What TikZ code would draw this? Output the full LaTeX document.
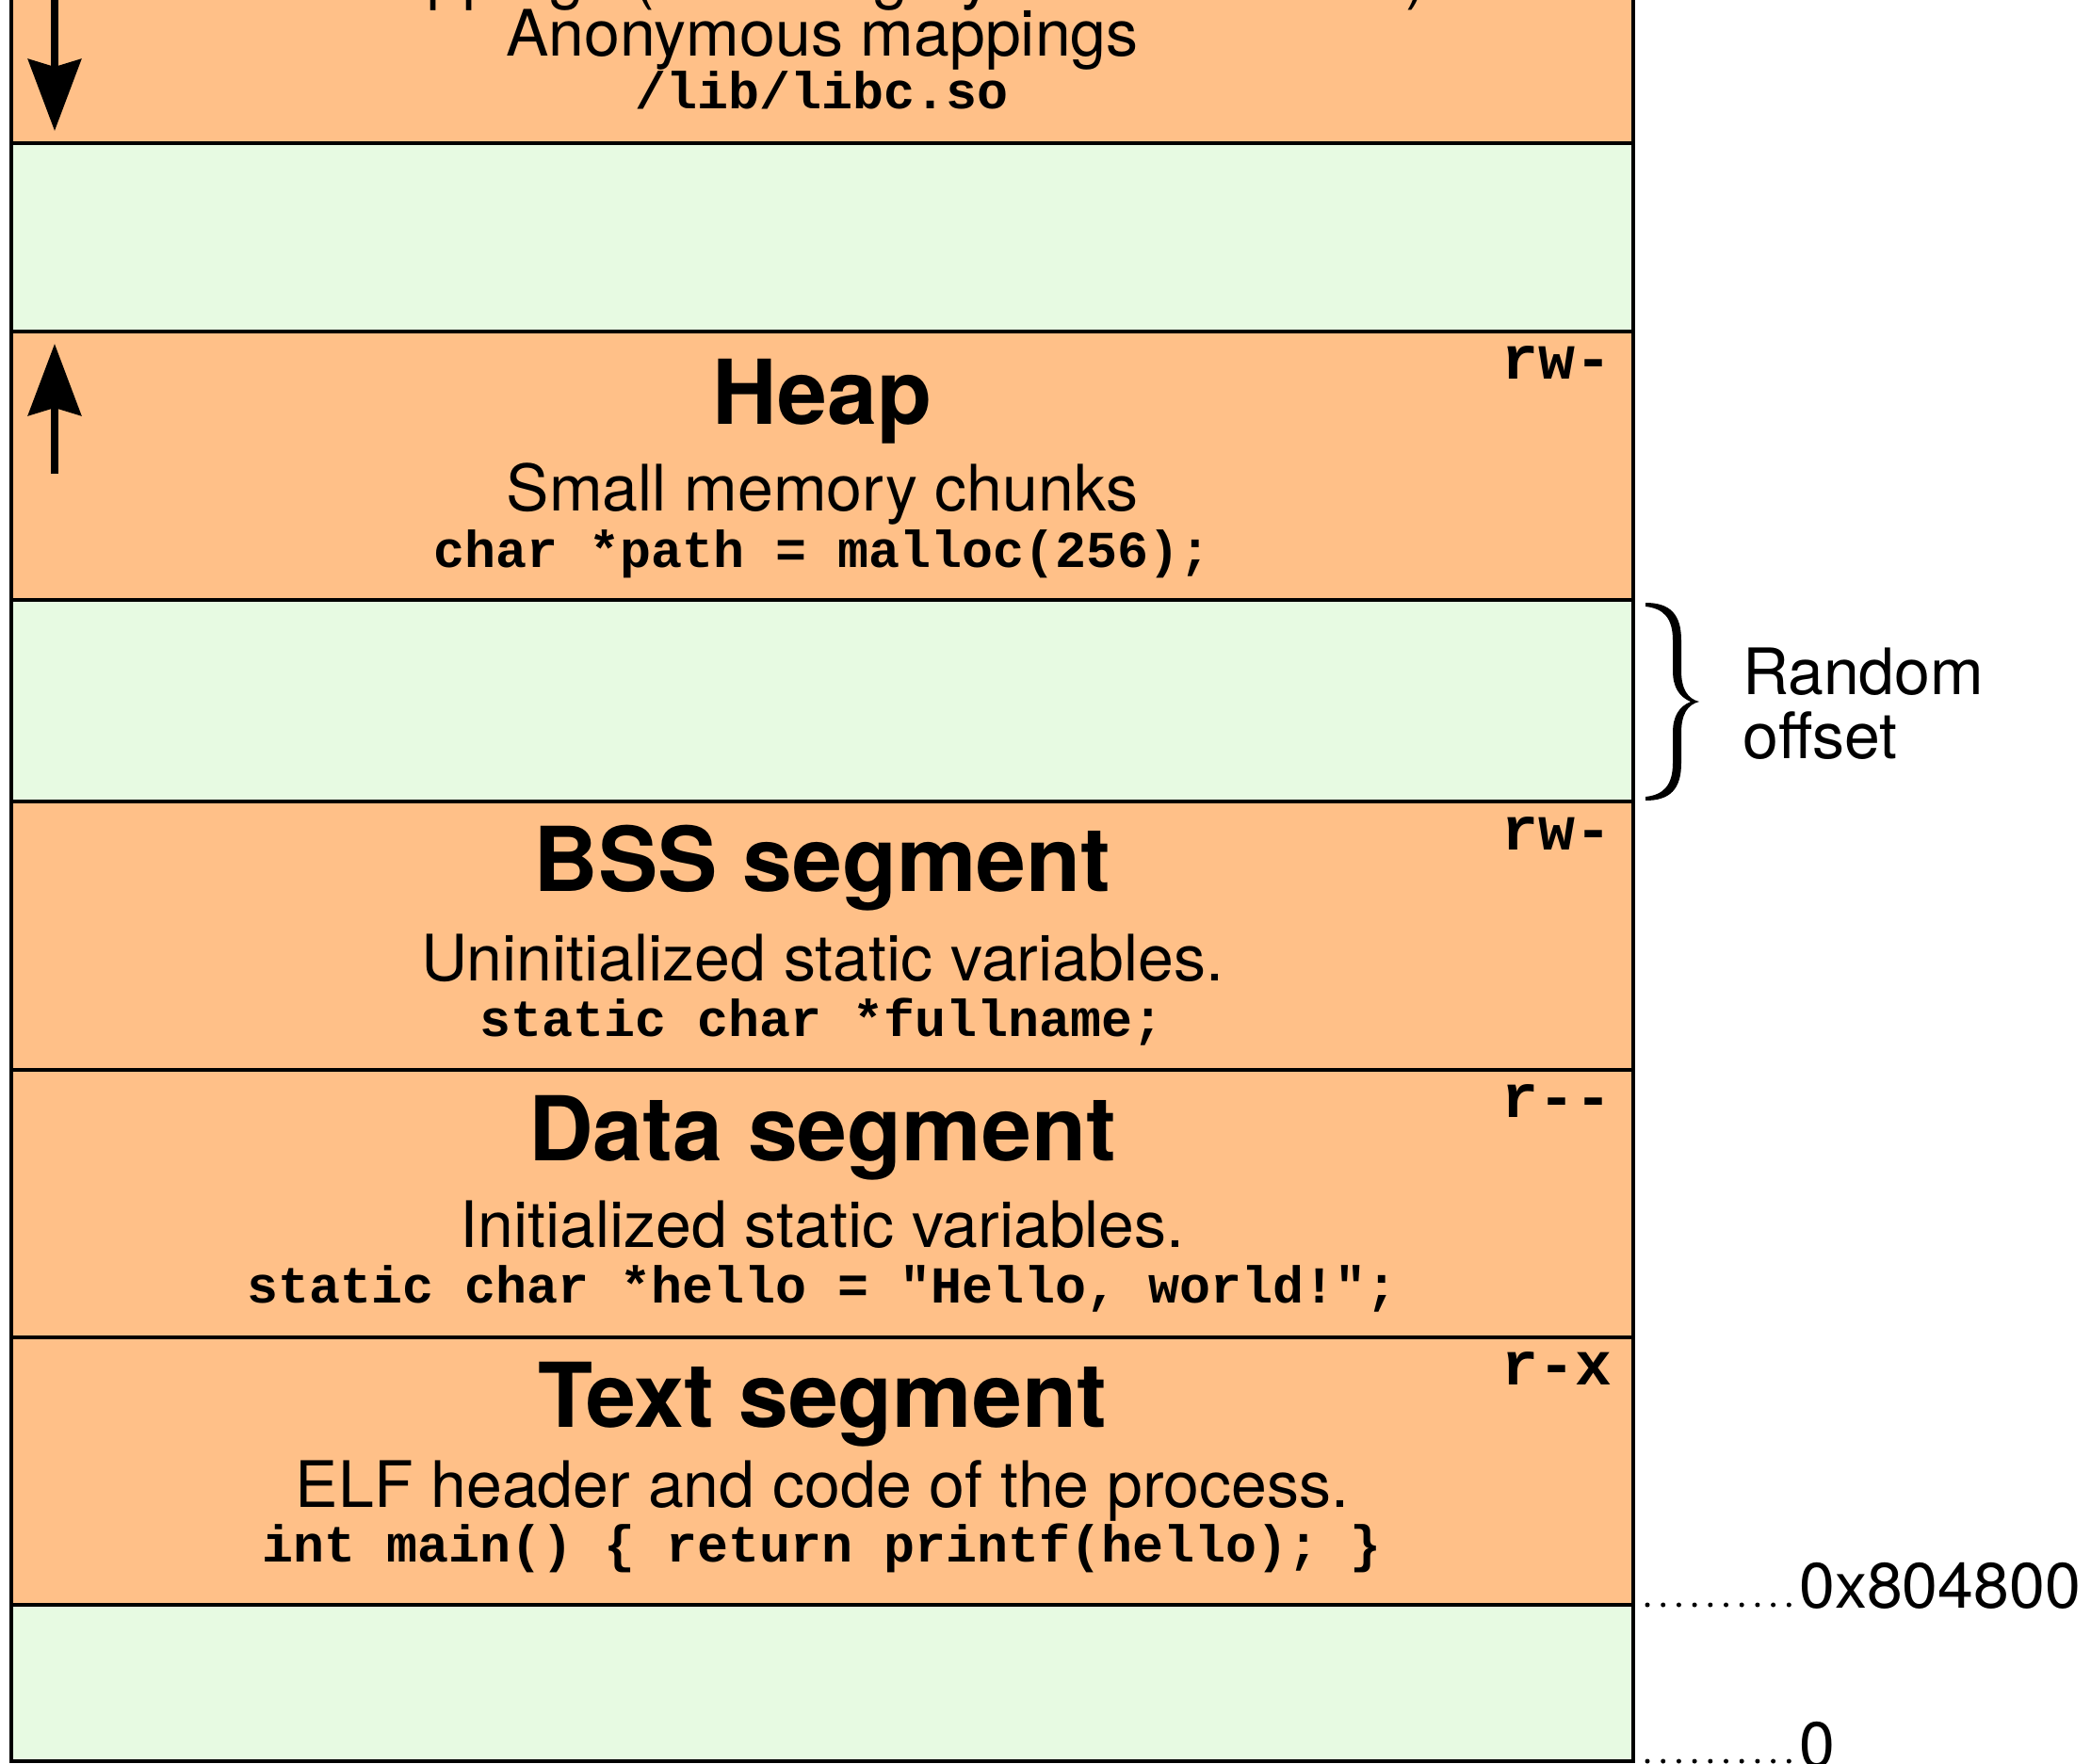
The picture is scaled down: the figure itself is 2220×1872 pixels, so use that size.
\documentclass[tikz,border=0pt]{standalone}
\usepackage{fontspec}
\setmainfont{TeX Gyre Heros}
\newfontfamily\codefont{Liberation Mono}
\usetikzlibrary{arrows.meta}
\definecolor{segfill}{RGB}{255,192,136}
\definecolor{gapfill}{RGB}{231,250,226}
\tikzset{
  segbox/.style={fill=segfill,draw=black,line width=4pt},
  gapbox/.style={fill=gapfill,draw=black,line width=4pt},
  titletext/.style={anchor=base,inner sep=0pt,font=\fontsize{95}{95}\selectfont\bfseries},
  subtext/.style={anchor=base,inner sep=0pt,font=\fontsize{68}{68}\selectfont},
  codetext/.style={anchor=base,inner sep=0pt,font=\fontsize{55}{55}\selectfont\codefont\bfseries},
  permtext/.style={anchor=base east,inner sep=0pt,font=\fontsize{65}{65}\selectfont\codefont\bfseries},
  sidetext/.style={anchor=base west,inner sep=0pt,font=\fontsize{68}{68}\selectfont},
  growarrow/.style={line width=8pt,-{Stealth[length=76pt,width=56pt,inset=8pt]}},
  dotline/.style={line width=5pt,line cap=round,dash pattern=on 0pt off 16.7pt},
}
\begin{document}
\begin{tikzpicture}[x=1pt,y=-1pt]
\useasboundingbox (0,0) rectangle (2220,1872);
\clip (0,0) rectangle (2220,1872);
% segments
\path[segbox] (12,-20) rectangle (1734,152);
\path[gapbox] (12,152) rectangle (1734,352);
\path[segbox] (12,352) rectangle (1734,637);
\path[gapbox] (12,637) rectangle (1734,851);
\path[segbox] (12,851) rectangle (1734,1136);
\path[segbox] (12,1136) rectangle (1734,1420);
\path[segbox] (12,1420) rectangle (1734,1704);
\path[gapbox] (12,1704) rectangle (1734,1870);
% memory mapping segment (cut at top)
\node[subtext] (mmline) at (873,-4) {File mappings (including dynamic libraries)};
\node[subtext] (anon) at (873,59) {Anonymous mappings};
\node[codetext] (libc) at (873,115) {/lib/libc.so};
\coordinate (dtop) at (58,-20);
\coordinate (dtip) at (58,139);
\draw[growarrow] (dtop) -- (dtip);
% heap
\node[titletext] (heap) at (873,450) {Heap};
\node[subtext] (heapsub) at (873,542) {Small memory chunks};
\node[codetext] (heapcode) at (873,602) {char *path = malloc(256);};
\node[permtext] (heapperm) at (1712,402) {rw-};
\coordinate (ubot) at (58,503);
\coordinate (utip) at (58,365);
\draw[growarrow] (ubot) -- (utip);
% bss
\node[titletext] (bss) at (873,946) {BSS segment};
\node[subtext] (bsssub) at (873,1041) {Uninitialized static variables.};
\node[codetext] (bsscode) at (873,1100) {static char *fullname;};
\node[permtext] (bssperm) at (1712,902) {rw-};
% data
\node[titletext] (data) at (873,1232) {Data segment};
\node[subtext] (datasub) at (873,1324) {Initialized static variables.};
\node[codetext] (datacode) at (873,1383) {static char *hello = "Hello, world!";};
\node[permtext] (dataperm) at (1712,1186) {r--};
% text
\node[titletext] (textseg) at (873,1515) {Text segment};
\node[subtext] (textsub) at (873,1600) {ELF header and code of the process.};
\node[codetext] (textcode) at (873,1658) {int main() \{ return printf(hello); \}};
\node[permtext] (textperm) at (1712,1470) {r-x};
% random offset brace (calligraphic, filled)
\fill[black]
  (1747,640) .. controls (1773,640) and (1785,652) .. (1785,680)
  -- (1785,712) .. controls (1785,732) and (1792,742) .. (1804,745)
  .. controls (1792,748) and (1785,758) .. (1785,778)
  -- (1785,810) .. controls (1785,838) and (1773,850) .. (1747,850)
  -- (1747,846) .. controls (1766,844) and (1776,834) .. (1776,810)
  -- (1776,778) .. controls (1776,760) and (1783,750) .. (1795,745)
  .. controls (1783,740) and (1776,730) .. (1776,712)
  -- (1776,680) .. controls (1776,656) and (1766,646) .. (1747,644) -- cycle;
\node[sidetext] (rand1) at (1850,737) {Random};
\node[sidetext] (rand2) at (1850,805) {offset};
% addresses
\node[sidetext] (addr1) at (1910,1707) {0x804800};
\node[sidetext] (addr0) at (1910,1876) {0};
\coordinate (d1s) at (1749,1704);
\coordinate (d1e) at (1900,1704);
\coordinate (d0s) at (1749,1870);
\coordinate (d0e) at (1900,1870);
\draw[dotline] (d1s) -- (d1e);
\draw[dotline] (d0s) -- (d0e);
\end{tikzpicture}
\end{document}
